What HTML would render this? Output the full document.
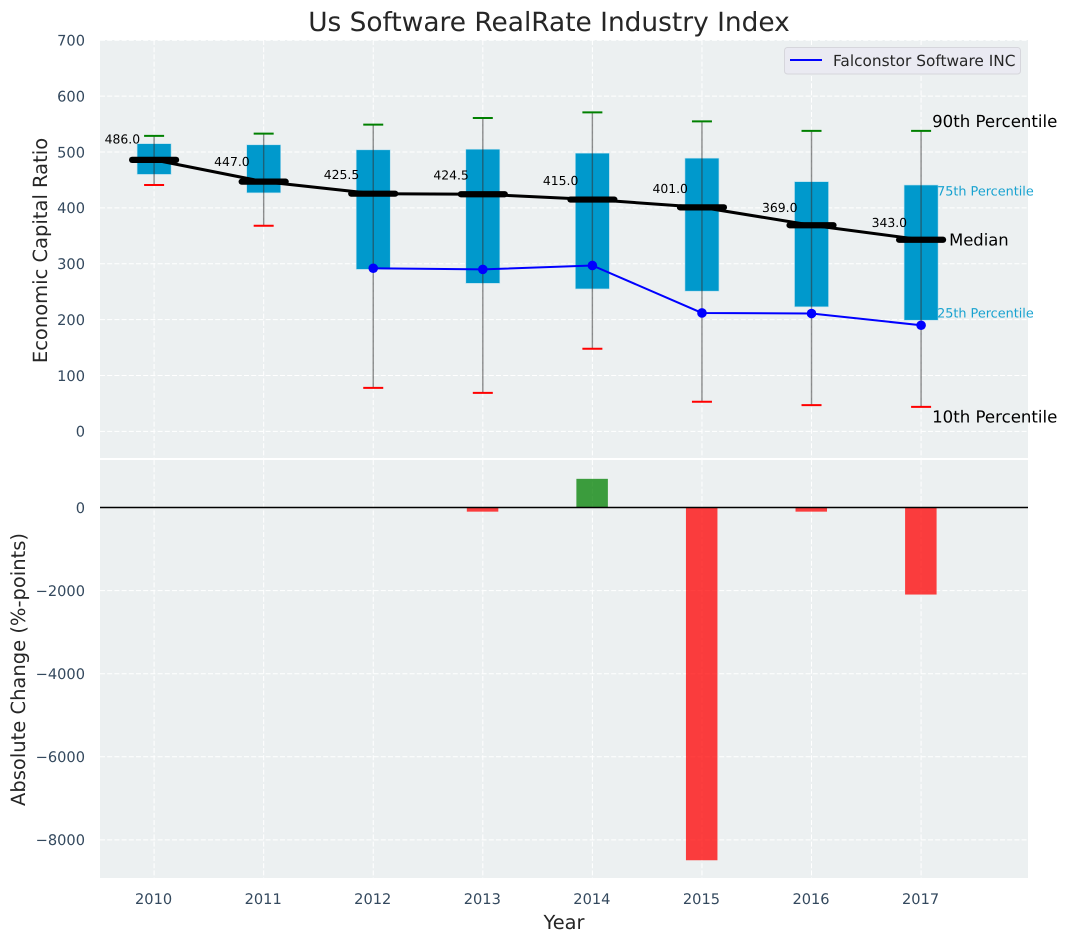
<!DOCTYPE html>
<html>
<head>
<meta charset="utf-8">
<title>Us Software RealRate Industry Index</title>
<style>
html,body{margin:0;padding:0;background:#fff;width:1067px;height:942px;overflow:hidden}
svg{display:block}
text{font-family:"DejaVu Sans","Liberation Sans",sans-serif;text-rendering:geometricPrecision}
</style>
</head>
<body>
<svg id="chart" xmlns="http://www.w3.org/2000/svg" width="1067" height="942" viewBox="0 0 1067 942">
  <rect x="100" y="40" width="928" height="418" fill="#ecf0f1"/>
  <rect x="100" y="460" width="928" height="418" fill="#ecf0f1"/>
  <g id="grid"></g>
  <g id="bars"></g>
  <g id="boxes"></g>
  <g id="series"></g>
  <g id="labels"></g>
  <g id="ticks"></g>
  <text x="549" y="31" text-anchor="middle" font-size="26.4" fill="#262626">Us Software RealRate Industry Index</text>
  <text transform="translate(47,250.5) rotate(-90)" text-anchor="middle" font-size="19.5" fill="#262626">Economic Capital Ratio</text>
  <text transform="translate(25,669.5) rotate(-90)" text-anchor="middle" font-size="19.5" fill="#262626">Absolute Change (%-points)</text>
  <text x="564" y="929" text-anchor="middle" font-size="19.4" fill="#262626">Year</text>
  <g>
    <rect x="784.5" y="47.5" width="236" height="26.5" rx="3" fill="#eaeaf2" stroke="#d6d6dc" stroke-width="1"/>
    <line x1="790" y1="60" x2="822" y2="60" stroke="#0000ff" stroke-width="2"/>
    <text x="833" y="66" font-size="15.35" fill="#262626">Falconstor Software INC</text>
  </g>
</svg>
<script>
var years = [2010, 2011, 2012, 2013, 2014, 2015, 2016, 2017];
var p90 = [529, 533, 549, 561, 571, 555, 538, 538];
var p75 = [515, 513, 504, 505, 498, 489, 447, 441];
var medians = [486, 447, 425.5, 424.5, 415, 401, 369, 343];
var p25 = [460, 427, 290, 265, 255, 251, 223, 199];
var p10 = [441, 368, 78, 69, 148, 53, 47, 44];
var companyYears = [2012, 2013, 2014, 2015, 2016, 2017];
var companyValues = [292, 290, 297, 212, 211, 190];
var changeYears = [2013, 2014, 2015, 2016, 2017];
var changeValues = [-100, 690, -8490, -100, -2095];
var topTicks = [0, 100, 200, 300, 400, 500, 600, 700];
var bottomTicks = [0, -2000, -4000, -6000, -8000];

function xScale(v) { return 154.1 + (v - 2010) * 109.57; }
function yTop(v) { return 431.4 - v * 0.5587; }
function yBot(v) { return 507.5 - v * 0.04155; }

var NS = 'http://www.w3.org/2000/svg';
function mk(parent, tag, props, txt) {
  var el = document.createElementNS(NS, tag);
  for (var k in props) { el.setAttribute(k, props[k]); }
  if (txt !== undefined) { el.textContent = txt; }
  parent.appendChild(el);
  return el;
}
var gGrid = document.getElementById('grid');
var gBars = document.getElementById('bars');
var gBoxes = document.getElementById('boxes');
var gSeries = document.getElementById('series');
var gLabels = document.getElementById('labels');
var gTicks = document.getElementById('ticks');
var gridStyle = {stroke: '#ffffff', 'stroke-width': 1, 'stroke-dasharray': '5 2.2'};
function withGrid(o) { for (var k in gridStyle) { o[k] = gridStyle[k]; } return o; }
function fmtTick(v) { return v < 0 ? '\u2212' + Math.abs(v) : String(v); }

years.forEach(function (yr) {
  var x = xScale(yr);
  var a = mk(gGrid, 'line', withGrid({x1: x, x2: x, y1: 40, y2: 458}));
  
  
  var b = mk(gGrid, 'line', withGrid({x1: x, x2: x, y1: 460, y2: 878}));
  
  
  var t = mk(gTicks, 'text', {x: x - 0.5, y: 904, 'text-anchor': 'middle', 'font-size': 14.6, fill: '#34495e'}, String(yr));
  
  
});
topTicks.forEach(function (v) {
  var y = yTop(v);
  var a = mk(gGrid, 'line', withGrid({x1: 100, x2: 1028, y1: y, y2: y}));
  
  
  var t = mk(gTicks, 'text', {x: 85, y: y + 5.3, 'text-anchor': 'end', 'font-size': 14.6, fill: '#34495e'}, fmtTick(v));
  
  
});
bottomTicks.forEach(function (v) {
  var y = yBot(v);
  var a = mk(gGrid, 'line', withGrid({x1: 100, x2: 1028, y1: y, y2: y}));
  
  
  var t = mk(gTicks, 'text', {x: 85, y: y + 5.3, 'text-anchor': 'end', 'font-size': 14.6, fill: '#34495e'}, fmtTick(v));
  
  
});

changeYears.forEach(function (yr, i) {
  var v = changeValues[i];
  var y0 = yBot(Math.max(v, 0));
  var y1 = yBot(Math.min(v, 0));
  var r = mk(gBars, 'rect', {x: xScale(yr) - 16, y: y0, width: 31.5, height: y1 - y0,
    fill: v >= 0 ? '#008000' : '#ff0000', 'fill-opacity': 0.75});
  
  
});
var zero = mk(gBars, 'line', {x1: 100, x2: 1028, y1: yBot(0), y2: yBot(0), stroke: '#000000', 'stroke-width': 1.4});



years.forEach(function (yr, i) {
  var x = xScale(yr);
  var top = yTop(p75[i]);
  var bot = yTop(p25[i]);
  var r = mk(gBoxes, 'rect', {x: x - 17, y: top, width: 34, height: bot - top, fill: '#0099cc', stroke: '#b5dfee', 'stroke-width': 0.6});
  
  
  var w = mk(gBoxes, 'line', {x1: x, x2: x, y1: yTop(p90[i]), y2: yTop(p10[i]), stroke: '#333333', 'stroke-opacity': 0.55, 'stroke-width': 1.4});
  
  
  var c1 = mk(gBoxes, 'line', {x1: x - 10, x2: x + 10, y1: yTop(p90[i]), y2: yTop(p90[i]), stroke: '#008000', 'stroke-width': 2});
  
  
  var c2 = mk(gBoxes, 'line', {x1: x - 10, x2: x + 10, y1: yTop(p10[i]), y2: yTop(p10[i]), stroke: '#ff0000', 'stroke-width': 2});
  
  
});

var bluePts = companyYears.map(function (yr, i) { return xScale(yr) + ',' + yTop(companyValues[i]); }).join(' ');
var blue = mk(gSeries, 'polyline', {points: bluePts, fill: 'none', stroke: '#0000ff', 'stroke-width': 2});


companyYears.forEach(function (yr, i) {
  var d = mk(gSeries, 'circle', {cx: xScale(yr), cy: yTop(companyValues[i]), r: 4.8, fill: '#0000ff'});
  
  
});

var medPts = years.map(function (yr, i) { return xScale(yr) + ',' + yTop(medians[i]); }).join(' ');
var medLine = mk(gSeries, 'polyline', {points: medPts, fill: 'none', stroke: '#000000', 'stroke-width': 3});


years.forEach(function (yr, i) {
  var x = xScale(yr);
  var y = yTop(medians[i]);
  var m = mk(gSeries, 'line', {x1: x - 22, x2: x + 22, y1: y, y2: y, stroke: '#000000', 'stroke-width': 6.2, 'stroke-linecap': 'round'});
  
  
  var t = mk(gLabels, 'text', {x: x - 14, y: yTop(medians[i] * 1.05) - 3, 'text-anchor': 'end', 'font-size': 12.4, fill: '#000000'}, medians[i].toFixed(1));
  
  
});

var last = years.length - 1;
var lastX = xScale(years[last]);
var l90 = mk(gLabels, 'text', {x: lastX + 11, y: yTop(p90[last]) - 4, 'font-size': 16.6, fill: '#000000'}, '90th Percentile');


var l75 = mk(gLabels, 'text', {x: lastX + 16, y: yTop(p75[last]) + 10.5, 'font-size': 12.8, fill: '#0099cc', 'fill-opacity': 0.9}, '75th Percentile');


var lMed = mk(gLabels, 'text', {x: lastX + 28, y: yTop(medians[last]) + 5.5, 'font-size': 16.4, fill: '#000000'}, 'Median');


var l25 = mk(gLabels, 'text', {x: lastX + 16, y: yTop(p25[last]) - 2.5, 'font-size': 12.8, fill: '#0099cc', 'fill-opacity': 0.9}, '25th Percentile');


var l10 = mk(gLabels, 'text', {x: lastX + 11, y: yTop(p10[last]) + 15.5, 'font-size': 16.6, fill: '#000000'}, '10th Percentile');


</script>
</body>
</html>
